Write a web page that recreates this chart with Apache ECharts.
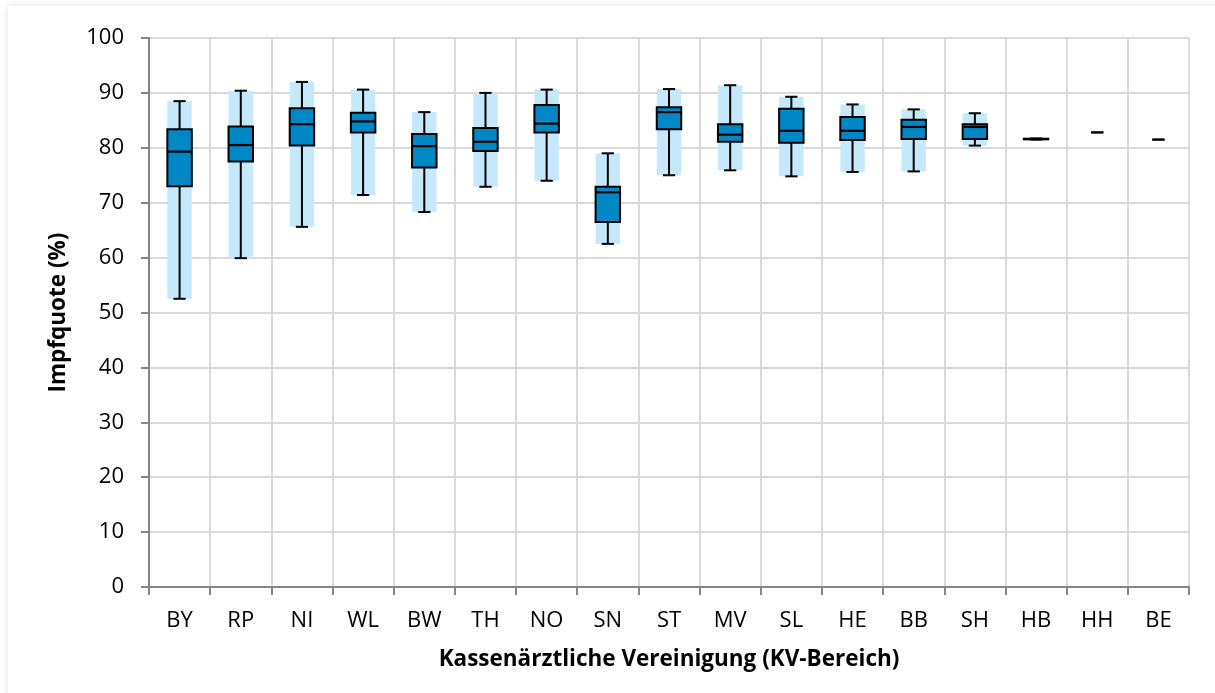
<!DOCTYPE html>
<html>
<head>
<meta charset="utf-8">
<script src="https://cdn.jsdelivr.net/npm/echarts@6/dist/echarts.min.js"></script>
<style>
html,body{margin:0;padding:0;background:#ffffff;}
#frame{position:absolute;left:8px;top:6px;width:1215px;height:700px;background:#fff;box-shadow:0 0 7px rgba(0,0,0,0.13);}
#chart{position:absolute;left:0;top:0;width:1215px;height:693px;}
</style>
</head>
<body>
<div id="frame"></div>
<div id="chart"></div>
<script>
const categories = ['BY','RP','NI','WL','BW','TH','NO','SN','ST','MV','SL','HE','BB','SH','HB','HH','BE'];
const minValues    = [52.5, 59.9, 65.6, 71.4, 68.3, 72.9, 74.0, 62.5, 75.0, 75.9, 74.8, 75.6, 75.7, 80.4, 81.5, 82.8, 81.5];
const q1Values     = [73.0, 77.5, 80.4, 82.8, 76.4, 79.4, 82.8, 66.5, 83.4, 81.1, 80.9, 81.4, 81.6, 81.6, 81.55, 82.8, 81.5];
const medianValues = [79.3, 80.5, 84.3, 84.8, 80.3, 81.1, 84.4, 71.9, 86.5, 82.4, 83.1, 83.1, 83.8, 83.8, 81.6, 82.8, 81.5];
const q3Values     = [83.4, 83.9, 87.2, 86.4, 82.5, 83.6, 87.8, 72.9, 87.4, 84.3, 87.1, 85.6, 85.1, 84.3, 81.65, 82.8, 81.5];
const maxValues    = [88.5, 90.4, 92.0, 90.6, 86.5, 90.0, 90.6, 79.0, 90.7, 91.4, 89.3, 87.9, 87.0, 86.3, 81.7, 82.8, 81.5];
const yTicks = [0, 10, 20, 30, 40, 50, 60, 70, 80, 90, 100];

const seriesData = categories.map((c, i) => [i, minValues[i], q1Values[i], medianValues[i], q3Values[i], maxValues[i]]);

const FONT = '"Open Sans"';
const chart = echarts.init(document.getElementById('chart'), null, {renderer: 'canvas'});

function renderBox(params, api) {
  const x = api.value(0);
  const pMin = api.coord([x, api.value(1)]);
  const pQ1 = api.coord([x, api.value(2)]);
  const pMed = api.coord([x, api.value(3)]);
  const pQ3 = api.coord([x, api.value(4)]);
  const pMax = api.coord([x, api.value(5)]);
  const band = api.size([1, 0])[0];
  const boxW = band * 0.40;
  const capW = band * 0.2;
  const cx = pMin[0];
  const children = [];
  if (pMin[1] - pMax[1] > 2) {
    children.push({
      type: 'rect',
      shape: {x: cx - boxW / 2, y: pMax[1], width: boxW, height: pMin[1] - pMax[1]},
      style: {fill: '#C5E9FA'}
    });
    children.push({
      type: 'line',
      shape: {x1: cx, y1: pMin[1], x2: cx, y2: pMax[1]},
      style: {stroke: '#000', lineWidth: 2}
    });
  }
  children.push({
    type: 'line',
    shape: {x1: cx - capW / 2, y1: pMax[1], x2: cx + capW / 2, y2: pMax[1]},
    style: {stroke: '#000', lineWidth: 2}
  });
  children.push({
    type: 'line',
    shape: {x1: cx - capW / 2, y1: pMin[1], x2: cx + capW / 2, y2: pMin[1]},
    style: {stroke: '#000', lineWidth: 2}
  });
  if (api.value(4) > api.value(2)) {
    children.push({
      type: 'rect',
      shape: {x: cx - boxW / 2, y: pQ3[1], width: boxW, height: Math.max(pQ1[1] - pQ3[1], 0.5)},
      style: {fill: '#0087C6', stroke: '#000', lineWidth: 2}
    });
    children.push({
      type: 'line',
      shape: {x1: cx - boxW / 2, y1: pMed[1], x2: cx + boxW / 2, y2: pMed[1]},
      style: {stroke: '#000', lineWidth: 2.2}
    });
  }
  return {type: 'group', children: children};
}

chart.setOption({
  animation: false,
  backgroundColor: 'transparent',
  grid: {left: 149, right: 26, top: 38, bottom: 106},
  xAxis: {
    type: 'category',
    data: categories,
    boundaryGap: true,
    name: 'Kassenärztliche Vereinigung (KV-Bereich)',
    nameLocation: 'middle',
    nameGap: 61,
    nameTextStyle: {fontFamily: FONT, fontSize: 22.5, fontWeight: 'bold', color: '#000'},
    axisLine: {lineStyle: {color: '#868686', width: 2}},
    axisTick: {show: true, length: 8, lineStyle: {color: '#868686', width: 2}},
    axisLabel: {fontFamily: FONT, fontSize: 22, color: '#000', margin: 23, interval: 0},
    splitLine: {show: true, lineStyle: {color: '#D9D9D9', width: 2}}
  },
  yAxis: {
    type: 'value',
    min: yTicks[0],
    max: yTicks[yTicks.length - 1],
    interval: yTicks[1] - yTicks[0],
    name: 'Impfquote (%)',
    nameLocation: 'middle',
    nameGap: 79,
    nameTextStyle: {fontFamily: FONT, fontSize: 22.5, fontWeight: 'bold', color: '#000'},
    axisLine: {show: true, lineStyle: {color: '#868686', width: 2}},
    axisTick: {show: true, length: 8, lineStyle: {color: '#868686', width: 2}},
    axisLabel: {fontFamily: FONT, fontSize: 22, color: '#000', margin: 25},
    splitLine: {show: true, lineStyle: {color: '#D9D9D9', width: 2}}
  },
  series: [{
    type: 'custom',
    renderItem: renderBox,
    encode: {x: 0, y: [1, 2, 3, 4, 5]},
    data: seriesData,
    z: 3
  }]
});
</script>
</body>
</html>
